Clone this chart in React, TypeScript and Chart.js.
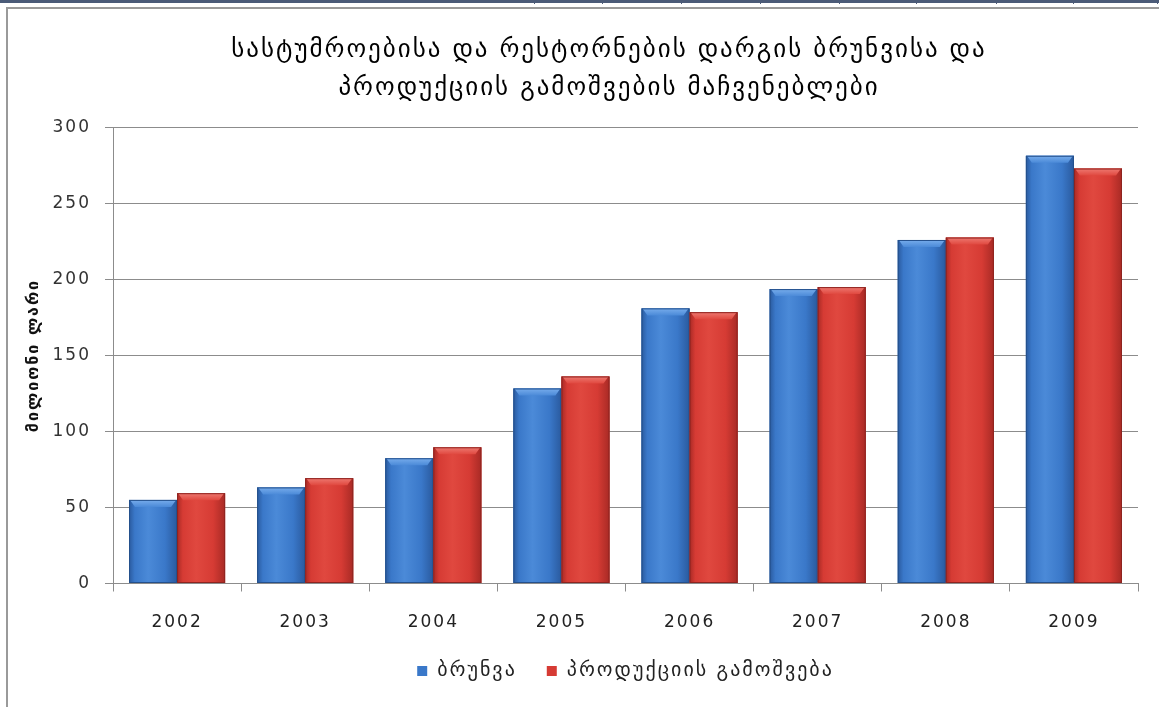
import React, { useEffect, useRef } from "react";
import { Chart, registerables } from "chart.js";

Chart.register(...registerables);

const titleLines = [
  "სასტუმროებისა და რესტორნების დარგის ბრუნვისა და",
  "პროდუქციის გამოშვების მაჩვენებლები",
];
const yAxisTitle = "მილიონი ლარი";
const years = ["2002", "2003", "2004", "2005", "2006", "2007", "2008", "2009"];
const seriesNames = ["ბრუნვა", "პროდუქციის გამოშვება"];
const turnover = [55, 63.2, 82.4, 128.3, 181, 193.7, 226, 281.4];
const production = [59.4, 69.3, 89.6, 136.2, 178.5, 195, 227.6, 273];
const yTicks = { min: 0, max: 300, step: 50 };

const palettes = [
  { base: "#3a78c9", dark: "#2a5a9e", light: "#4b8ad8", top: "#78adec", line: "#24508c" },
  { base: "#d63b34", dark: "#a82a25", light: "#e0483f", top: "#ee7a72", line: "#8e2420" },
];

const FONT = "'DejaVu Sans', sans-serif";
const SPACING = "2px";

const spacingPlugin = {
  id: "letterSpacing",
  beforeUpdate(chart: any) {
    chart.ctx.letterSpacing = SPACING;
  },
  beforeLayout(chart: any) {
    chart.ctx.letterSpacing = SPACING;
  },
  beforeDraw(chart: any) {
    chart.ctx.letterSpacing = SPACING;
  },
};

const barStylePlugin = {
  id: "barStyle",
  afterDatasetsDraw(chart: any) {
    const ctx = chart.ctx;
    chart.data.datasets.forEach((_: any, di: number) => {
      const meta = chart.getDatasetMeta(di);
      const pal = palettes[di];
      meta.data.forEach((bar: any) => {
        const { x, y, base, width } = bar.getProps(["x", "y", "base", "width"], true);
        const l = x - width / 2;
        const r = x + width / 2;
        const t = y;
        const b = base;
        ctx.save();
        const g = ctx.createLinearGradient(l, 0, r, 0);
        g.addColorStop(0, pal.dark);
        g.addColorStop(0.12, pal.base);
        g.addColorStop(0.4, pal.light);
        g.addColorStop(0.75, pal.base);
        g.addColorStop(1, pal.dark);
        ctx.fillStyle = g;
        ctx.fillRect(l, t, width, b - t);
        const bh = 7;
        const tg = ctx.createLinearGradient(0, t, 0, t + bh);
        tg.addColorStop(0, pal.top);
        tg.addColorStop(1, pal.light);
        ctx.fillStyle = tg;
        ctx.beginPath();
        ctx.moveTo(l + 1, t);
        ctx.lineTo(r - 1, t);
        ctx.lineTo(r - 6, t + bh);
        ctx.lineTo(l + 6, t + bh);
        ctx.closePath();
        ctx.fill();
        ctx.strokeStyle = pal.line;
        ctx.lineWidth = 1;
        ctx.strokeRect(l + 0.5, t + 0.5, width - 1, b - t - 1);
        ctx.restore();
      });
    });
  },
};

const titlePlugin = {
  id: "twoLineTitle",
  afterDraw(chart: any) {
    const ctx = chart.ctx;
    ctx.save();
    ctx.letterSpacing = SPACING;
    ctx.fillStyle = "#000";
    ctx.font = `25px ${FONT}`;
    ctx.textAlign = "center";
    ctx.textBaseline = "middle";
    ctx.fillText(titleLines[0], 609, 50);
    ctx.fillText(titleLines[1], 609, 88);
    ctx.restore();
  },
};

export default function App() {
  const ref = useRef<HTMLCanvasElement | null>(null);

  useEffect(() => {
    if (!ref.current) return;
    const chart = new Chart(ref.current, {
      type: "bar",
      data: {
        labels: years,
        datasets: [
          {
            label: seriesNames[0],
            data: turnover,
            backgroundColor: palettes[0].base,
            borderWidth: 0,
            categoryPercentage: 0.75,
            barPercentage: 1,
          },
          {
            label: seriesNames[1],
            data: production,
            backgroundColor: palettes[1].base,
            borderWidth: 0,
            categoryPercentage: 0.75,
            barPercentage: 1,
          },
        ],
      },
      options: {
        animation: false,
        responsive: true,
        maintainAspectRatio: false,
        layout: { padding: { top: 127.5, right: 21, left: 0, bottom: 16 } },
        plugins: {
          title: { display: false },
          tooltip: { enabled: false },
          legend: {
            position: "bottom",
            fullSize: false,
            labels: {
              boxWidth: 10,
              boxHeight: 10,
              padding: 30,
              color: "#222",
              font: { family: FONT, size: 20 },
            },
          },
        },
        scales: {
          x: {
            afterFit(scale: any) {
              scale.height = 47.5;
            },
            grid: {
              drawOnChartArea: false,
              tickLength: 8,
              color: "#8c8c8c",
              offset: true,
            },
            border: { color: "#8c8c8c" },
            ticks: {
              color: "#222",
              font: { family: FONT, size: 17 },
              padding: 21,
            },
          },
          y: {
            min: yTicks.min,
            max: yTicks.max,
            afterFit(scale: any) {
              scale.width = 113;
            },
            ticks: {
              stepSize: yTicks.step,
              color: "#333",
              font: { family: FONT, size: 17 },
              padding: 14,
            },
            grid: { color: "#8c8c8c", tickLength: 8 },
            border: { color: "#8c8c8c" },
            title: {
              display: true,
              text: yAxisTitle,
              color: "#111",
              font: { family: FONT, size: 16, weight: "bold" },
              padding: { top: 24, bottom: 0 },
            },
          },
        },
      },
      plugins: [spacingPlugin, barStylePlugin, titlePlugin],
    } as any);
    return () => chart.destroy();
  }, []);

  const seps = [534, 602, 681, 760, 839, 916, 996, 1073, 1157];

  return (
    <div style={{ position: "fixed", left: 0, top: 0, width: 1159, height: 707, background: "#fff", overflow: "hidden" }}>
      <div style={{ position: "absolute", left: 0, top: 0, width: 1159, height: 3, background: "#4b5b78" }} />
      {seps.map((sx) => (
        <div key={sx} style={{ position: "absolute", left: sx, top: 0, width: 1, height: 4, background: "#4b5b78" }} />
      ))}
      <div style={{ position: "absolute", left: 6, top: 7, width: 1153, height: 700, borderLeft: "2px solid #9a9a9a", borderTop: "2px solid #9a9a9a" }} />
      <div style={{ position: "absolute", left: 0, top: 0, width: 1159, height: 707 }}>
        <canvas ref={ref} />
      </div>
    </div>
  );
}
